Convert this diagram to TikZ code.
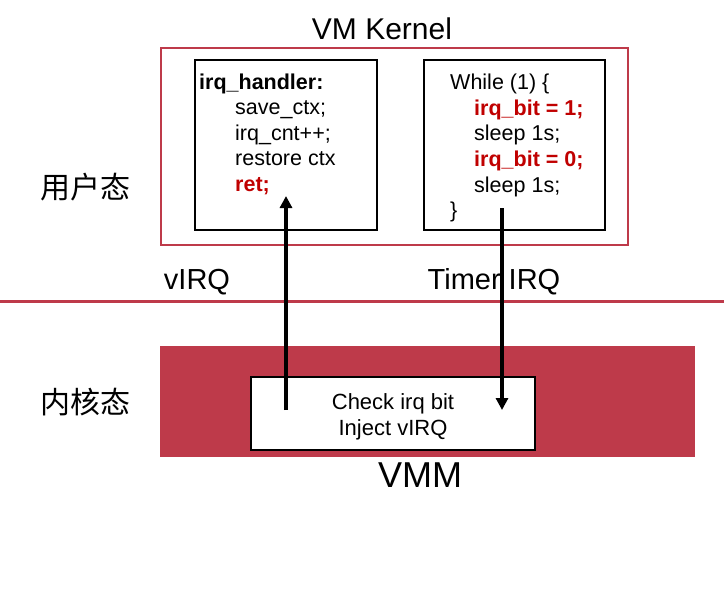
\documentclass[tikz,border=0pt]{standalone}
\usepackage{fontspec}
\setmainfont{Liberation Sans}
\newfontfamily\cjk{Noto Sans CJK SC}
\usetikzlibrary{calc, positioning, arrows.meta}
\definecolor{vmred}{RGB}{190,58,74}
\definecolor{codered}{RGB}{192,0,0}
\tikzset{
	codeline/.style={anchor=base west, inner sep=0pt, font=\fontsize{21.5}{24}\selectfont},
	biglabel/.style={anchor=base, inner sep=0pt, font=\fontsize{29}{32}\selectfont},
	codebox/.style={draw=black, line width=2pt},
	irqarrow/.style={-{Triangle[length=12pt,width=12pt]}, line width=3.6pt}
}
\begin{document}
\begin{tikzpicture}
			[x=1pt, y=-1pt]
			\useasboundingbox (0,0) rectangle (728,590);
			% boxes %
			\draw[vmred, line width=1.4pt] (161,48) rectangle (628,245);
			\draw[codebox] (195,60) rectangle (377,230);
			\draw[codebox] (424,60) rectangle (605,230);
			\draw[vmred, line width=3pt] (0,301) -- (724,301);
			\fill[vmred] (160,346) rectangle (695,457);
			\draw[codebox, fill=white] (251,377) rectangle (535,450);

			% labels %
			\node[biglabel, font=\fontsize{30}{34}\selectfont] (kernel) at (382,39) {VM Kernel};
			\node[biglabel] (virq) at (197,289) {vIRQ};
			\node[biglabel] (timer) at (494,289) {Timer IRQ};
			\node[biglabel, font=\fontsize{36}{40}\selectfont] (vmm) at (420,487) {VMM};
			\node[inner sep=0pt, font=\cjk\fontsize{30}{32}\selectfont] (user) at (85,187) {用户态};
			\node[inner sep=0pt, font=\cjk\fontsize{30}{32}\selectfont] (kmode) at (85,402) {内核态};

			% handler code %
			\node[codeline] (h1) at (199,89) {\textbf{irq\_handler:}};
			\node[codeline] (h2) at (235,114.5) {save\_ctx;};
			\node[codeline] (h3) at (235,140) {irq\_cnt++;};
			\node[codeline] (h4) at (235,165.5) {restore ctx};
			\node[codeline, text=codered] (h5) at (235,191) {\textbf{ret;}};

			% timer code %
			\node[codeline] (t1) at (450,89) {While (1) \{};
			\node[codeline, text=codered] (t2) at (474,115) {\textbf{irq\_bit = 1;}};
			\node[codeline] (t3) at (474,140.5) {sleep 1s;};
			\node[codeline, text=codered] (t4) at (474,166) {\textbf{irq\_bit = 0;}};
			\node[codeline] (t5) at (474,192) {sleep 1s;};
			\node[codeline] (t6) at (450,217) {\}};

			% vmm code %
			\node[anchor=base, inner sep=0pt, font=\fontsize{22}{24}\selectfont] (check) at (393,409) {Check irq bit};
			\node[anchor=base, inner sep=0pt, font=\fontsize{22}{24}\selectfont] (inject) at (393,435) {Inject vIRQ};

			% edges %
			\coordinate (vfrom) at (286,410);
			\coordinate (vto) at (286,196);
			\coordinate (tfrom) at (502,208);
			\coordinate (tto) at (502,410);
			\draw[irqarrow] (vfrom) -- (vto);
			\draw[irqarrow] (tfrom) -- (tto);
\end{tikzpicture}
\end{document}
